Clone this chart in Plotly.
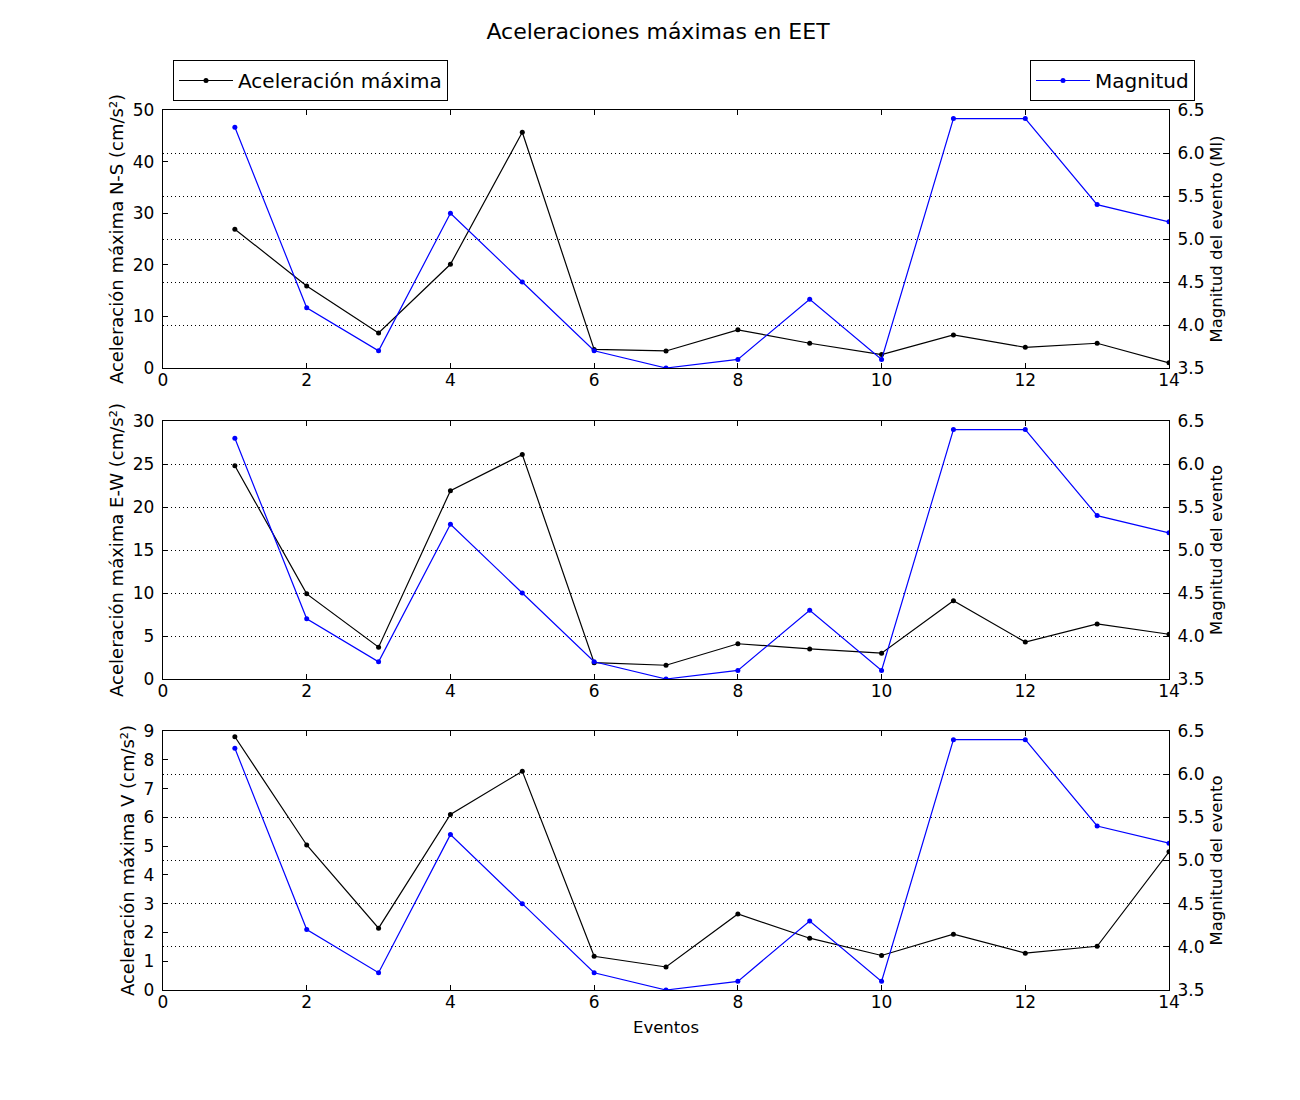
import plotly.graph_objects as go

eventos = list(range(1, 15))
magnitud = [6.3, 4.2, 3.7, 5.3, 4.5, 3.7, 3.5, 3.6, 4.3, 3.6, 6.4, 6.4, 5.4, 5.2]
acel_ns = [26.9, 15.9, 6.8, 20.1, 45.7, 3.6, 3.3, 7.4, 4.8, 2.6, 6.4, 4.0, 4.8, 1.0]
acel_ew = [24.8, 9.9, 3.7, 21.9, 26.1, 1.9, 1.6, 4.1, 3.5, 3.0, 9.1, 4.3, 6.4, 5.2]
acel_v = [8.8, 5.04, 2.15, 6.1, 7.6, 1.17, 0.8, 2.64, 1.8, 1.2, 1.94, 1.28, 1.52, 4.8]

left_labels = ["Aceleración máxima N-S (cm/s²)", "Aceleración máxima E-W (cm/s²)",
               "Aceleración máxima V (cm/s²)"]
right_labels = ["Magnitud del evento (Ml)", "Magnitud del evento", "Magnitud del evento"]
left_ranges = [[0, 50], [0, 30], [0, 9]]
left_dticks = [10, 5, 1]
mag_range = [3.5, 6.5]

FONT = "DejaVu Sans"
W, H = 1300, 1100
OFF = 8  # page body offset
L, R, T, B = 163 - OFF, 1169 - OFF, 110 - OFF, 990 - OFF
pw, ph = R - L, B - T
panels_px = [(110 - OFF, 368 - OFF), (421 - OFF, 679 - OFF), (731 - OFF, 990 - OFF)]

fig = go.Figure()
acels = [acel_ns, acel_ew, acel_v]
for i in range(3):
    xa = "x" if i == 0 else f"x{i+1}"
    ya = f"y{2*i+1}" if i > 0 else "y"
    yb = f"y{2*i+2}"
    fig.add_trace(go.Scatter(
        x=eventos, y=acels[i], mode="lines+markers", xaxis=xa, yaxis=ya,
        line=dict(color="#000000", width=1.2), marker=dict(color="#000000", size=5),
        name="Aceleración máxima", showlegend=(i == 0), legend="legend"))
    fig.add_trace(go.Scatter(
        x=eventos, y=magnitud, mode="lines+markers", xaxis=xa, yaxis=yb,
        line=dict(color="#0000ff", width=1.2), marker=dict(color="#0000ff", size=5),
        name="Magnitud", showlegend=(i == 0), legend="legend2"))

layout = dict(
    width=W, height=H,
    margin=dict(l=L, r=W - R, t=T, b=H - B),
    paper_bgcolor="white", plot_bgcolor="white",
    font=dict(family=FONT, size=16, color="black"),
    title=dict(text="Aceleraciones máximas en EET", x=0.5, xref="container",
               y=1 - (31 - OFF) / H, yref="container", yanchor="middle", xanchor="center",
               font=dict(size=22, family=FONT, color="black")),
    legend=dict(x=(173 - OFF - L) / pw, y=(B - (60 - OFF)) / ph, xanchor="left", yanchor="top",
                bordercolor="black", borderwidth=1, bgcolor="white",
                font=dict(size=20, family=FONT), itemwidth=54),
    legend2=dict(x=(1195 - OFF - L) / pw, y=(B - (60 - OFF)) / ph, xanchor="right", yanchor="top",
                 bordercolor="black", borderwidth=1, bgcolor="white",
                 font=dict(size=20, family=FONT), itemwidth=54),
    showlegend=True,
)

for i in range(3):
    top, bot = panels_px[i]
    dom = [(B - bot) / ph, (B - top) / ph]
    xkey = "xaxis" if i == 0 else f"xaxis{i+1}"
    yk1 = "yaxis" if i == 0 else f"yaxis{2*i+1}"
    yk2 = f"yaxis{2*i+2}"
    yname1 = "y" if i == 0 else f"y{2*i+1}"
    xname = "x" if i == 0 else f"x{i+1}"
    layout[xkey] = dict(
        domain=[0, 1], anchor=yname1, range=[0, 14], dtick=2, tick0=0,
        showgrid=False, zeroline=False, showline=True, linecolor="black", linewidth=1.3,
        mirror="ticks", ticks="inside", ticklen=5, tickcolor="black",
        tickfont=dict(size=17, family=FONT), ticklabelstandoff=-4,
        title=dict(text="Eventos" if i == 2 else "", font=dict(size=16.5, family=FONT),
                   standoff=10),
    )
    layout[yk1] = dict(
        domain=dom, anchor=xname, range=left_ranges[i], dtick=left_dticks[i], tick0=0,
        showgrid=False, zeroline=False, showline=True, linecolor="black", linewidth=1.3,
        ticks="inside", ticklen=5, tickcolor="black",
        tickfont=dict(size=17, family=FONT), ticklabelstandoff=4,
        title=dict(text=left_labels[i], font=dict(size=18, family=FONT), standoff=4),
    )
    layout[yk2] = dict(
        overlaying=yname1, side="right", anchor=xname, range=mag_range, dtick=0.5,
        tick0=3.5, tickformat=".1f",
        showgrid=True, gridcolor="black", gridwidth=1, griddash="1px,3px",
        zeroline=False, showline=True, linecolor="black", linewidth=1.3,
        ticks="inside", ticklen=5, tickcolor="black",
        tickfont=dict(size=17, family=FONT), ticklabelstandoff=4,
        title=dict(text=right_labels[i], font=dict(size=16.5, family=FONT), standoff=6),
    )

fig.update_layout(**layout)
fig.write_html("out.html")
